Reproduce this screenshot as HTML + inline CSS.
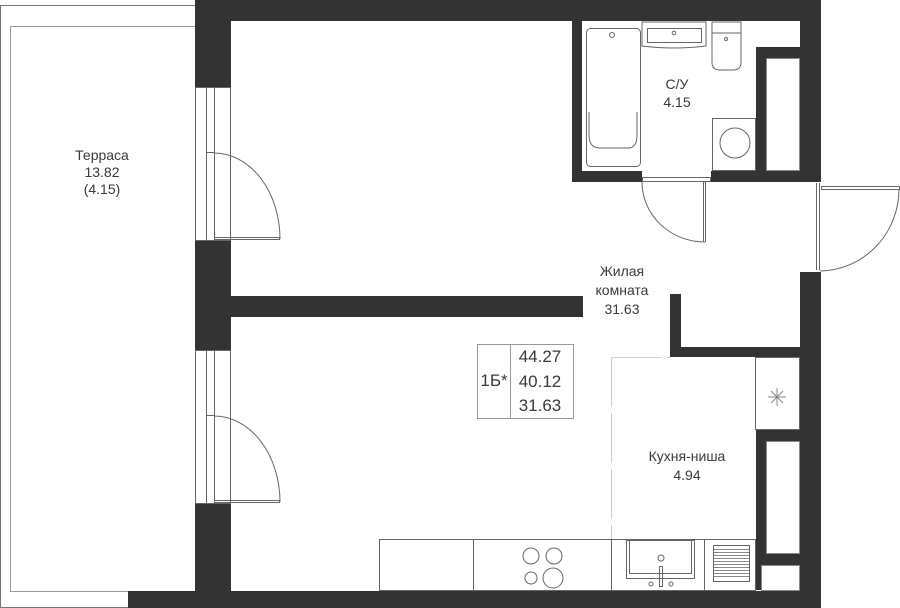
<!DOCTYPE html>
<html><head><meta charset="utf-8"><style>
html,body{margin:0;padding:0;background:#fff}
svg{display:block}
text{font-family:"Liberation Sans",sans-serif;fill:#3a3a3a;text-anchor:middle}
</style></head><body>
<svg width="900" height="608" viewBox="0 0 900 608" xmlns="http://www.w3.org/2000/svg">
<!-- terrace -->
<rect x="0.5" y="5.5" width="195" height="602" fill="none" stroke="#777" stroke-width="1"/>
<rect x="10.5" y="26.5" width="185" height="565" fill="none" stroke="#999" stroke-width="1"/>
<g fill="#333">
<!-- top wall -->
<rect x="195" y="0" width="626" height="21"/>
<!-- left wall -->
<rect x="195" y="0" width="36" height="87"/>
<rect x="195" y="240" width="36" height="110"/>
<rect x="195" y="503" width="36" height="90"/>
<!-- partition -->
<rect x="195" y="296" width="388" height="21"/>
<!-- bottom wall -->
<rect x="128" y="591" width="693" height="17"/>
<!-- bathroom walls -->
<rect x="572" y="19" width="10" height="163"/>
<rect x="572" y="171" width="70" height="11"/>
<rect x="711" y="171" width="110" height="11"/>
<rect x="756" y="47" width="65" height="11"/>
<rect x="756" y="47" width="10" height="130"/>
<rect x="800" y="0" width="21" height="182"/>
<!-- right wall lower -->
<rect x="800" y="272" width="21" height="320"/>
<rect x="670" y="294" width="11" height="63"/>
<rect x="670" y="347" width="135" height="10"/>
<rect x="756" y="430" width="50" height="11"/>
<rect x="756" y="430" width="10" height="160"/>
<rect x="756" y="554" width="50" height="11"/>
</g>
<g fill="#fff" stroke="#888" stroke-width="1">
<rect x="766.5" y="58.5" width="33" height="112"/>
<rect x="766.5" y="441.5" width="33" height="112"/>
<rect x="761.5" y="565.5" width="38" height="25"/>
</g>
<g fill="none" stroke="#666" stroke-width="1">
<!-- windows/doors left -->
<rect x="195.5" y="87.5" width="35" height="153"/>
<line x1="206.5" y1="87" x2="206.5" y2="240"/><line x1="214.5" y1="87" x2="214.5" y2="240"/>
<line x1="206" y1="152.5" x2="214" y2="152.5"/>
<path d="M214 153 A66 86 0 0 1 280 239"/>
<rect x="214.5" y="237.5" width="65" height="2"/>
<rect x="195.5" y="350.5" width="35" height="153"/>
<line x1="206.5" y1="350" x2="206.5" y2="503"/><line x1="214.5" y1="350" x2="214.5" y2="503"/>
<line x1="206" y1="415.5" x2="214" y2="415.5"/>
<path d="M214 416 A66 86 0 0 1 280 502"/>
<rect x="214.5" y="500.5" width="65" height="2"/>
<!-- bathroom door -->
<rect x="642.5" y="177.5" width="68" height="4"/>
<line x1="705.5" y1="182" x2="705.5" y2="242"/><line x1="703.5" y1="182" x2="703.5" y2="242"/>
<path d="M642 182 A63 60 0 0 0 705 242"/>
<!-- entry door -->
<line x1="816.5" y1="183" x2="816.5" y2="270"/><line x1="819.5" y1="183" x2="819.5" y2="270"/>
<rect x="821.5" y="186.5" width="78" height="3"/>
<path d="M899 189 A80 82 0 0 1 820 271"/>
<!-- bath fixtures -->
<rect x="586.5" y="28.5" width="54" height="138" rx="4"/>
<path d="M589 112 L589 135 Q589 148 600 148 L628 148 Q637 148 637 135 L637 112"/>
<circle cx="612" cy="35" r="2.5"/>
<path d="M642 22 L706 22 L706 46 Q674 50 642 46 Z"/>
<rect x="647.5" y="28.5" width="54" height="14"/>
<circle cx="674" cy="33" r="1.8"/>
<path d="M712 22 L741 22 L741 33 L712 33 Z"/>
<path d="M712 33 L712 62 Q712 70 720 70 L733 70 Q741 70 741 62 L741 33"/>
<circle cx="726" cy="39" r="1.5"/>
<rect x="712.5" y="118.5" width="43" height="52"/>
<circle cx="735" cy="143" r="15"/>
<!-- kitchen -->
<rect x="379.5" y="539.5" width="376" height="51"/>
<line x1="473.5" y1="539" x2="473.5" y2="590"/>
<line x1="611.5" y1="539" x2="611.5" y2="590"/>
<line x1="704.5" y1="539" x2="704.5" y2="590"/>
<circle cx="531" cy="556" r="8"/><circle cx="554" cy="556" r="8"/>
<circle cx="531" cy="578" r="6"/><circle cx="553" cy="578" r="10"/>
<rect x="626.5" y="540.5" width="68" height="38"/>
<rect x="629.5" y="540.5" width="62" height="33"/>
<circle cx="661" cy="558" r="3"/>
<rect x="659.5" y="566.5" width="3" height="20"/>
<circle cx="651" cy="584" r="2"/><circle cx="671" cy="584" r="2"/>
<rect x="713.5" y="545.5" width="36" height="36"/>
<rect x="755.5" y="357.5" width="44" height="72"/>
<!-- info box -->
<rect x="477.5" y="344.5" width="96" height="74" stroke="#999"/>
<line x1="510.5" y1="344" x2="510.5" y2="418" stroke="#999"/>
</g>
<g stroke="#888" stroke-width="1">
<line x1="714" y1="549.5" x2="749" y2="549.5"/><line x1="714" y1="552.5" x2="749" y2="552.5"/>
<line x1="714" y1="555.5" x2="749" y2="555.5"/><line x1="714" y1="558.5" x2="749" y2="558.5"/>
<line x1="714" y1="561.5" x2="749" y2="561.5"/><line x1="714" y1="564.5" x2="749" y2="564.5"/>
<line x1="714" y1="567.5" x2="749" y2="567.5"/><line x1="714" y1="570.5" x2="749" y2="570.5"/>
<line x1="714" y1="573.5" x2="749" y2="573.5"/><line x1="714" y1="576.5" x2="749" y2="576.5"/>
<line x1="768" y1="397" x2="786" y2="397"/><line x1="777" y1="388" x2="777" y2="406"/>
<line x1="771" y1="391" x2="783" y2="403"/><line x1="783" y1="391" x2="771" y2="403"/>
</g>
<g stroke="#ccc" stroke-width="1" stroke-dasharray="50 6" fill="none">
<line x1="611.5" y1="357" x2="611.5" y2="539"/>
<line x1="611" y1="357.5" x2="670" y2="357.5"/>
</g>
<g font-size="14">
<text x="102" y="160">Терраса</text><text x="102" y="177">13.82</text><text x="102" y="194">(4.15)</text>
<text x="677" y="89">С/У</text><text x="677" y="107">4.15</text>
<text x="622" y="276">Жилая</text><text x="622" y="295">комната</text><text x="622" y="314">31.63</text>
<text x="687" y="461">Кухня-ниша</text><text x="687" y="480">4.94</text>
</g>
<g font-size="17">
<text x="494" y="386">1Б*</text>
<text x="540" y="362">44.27</text><text x="540" y="387">40.12</text><text x="540" y="411">31.63</text>
</g>
</svg>
</body></html>
